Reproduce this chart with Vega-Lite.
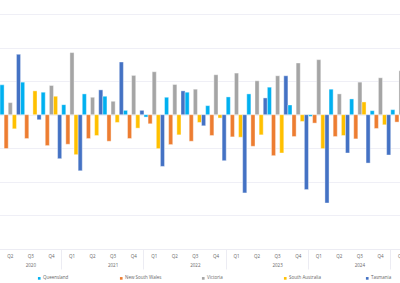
{
  "$schema": "https://vega.github.io/schema/vega-lite/v6.json",
  "width": 400,
  "height": 235,
  "autosize": {"type": "none"},
  "padding": {"left": 0, "top": 14, "right": 0, "bottom": 34},
  "background": "white",
  "config": {"view": {"stroke": null}, "font": "Open Sans"},
  "data": {"values": [
    {"quarter": "2020-Q1", "state": "Tasmania", "value": -0.72},
    {"quarter": "2020-Q2", "state": "Queensland", "value": 0.89},
    {"quarter": "2020-Q2", "state": "New South Wales", "value": -1.01},
    {"quarter": "2020-Q2", "state": "Victoria", "value": 0.36},
    {"quarter": "2020-Q2", "state": "South Australia", "value": -0.42},
    {"quarter": "2020-Q2", "state": "Tasmania", "value": 1.8},
    {"quarter": "2020-Q3", "state": "Queensland", "value": 0.97},
    {"quarter": "2020-Q3", "state": "New South Wales", "value": -0.71},
    {"quarter": "2020-Q3", "state": "Victoria", "value": 0},
    {"quarter": "2020-Q3", "state": "South Australia", "value": 0.71},
    {"quarter": "2020-Q3", "state": "Tasmania", "value": -0.15},
    {"quarter": "2020-Q4", "state": "Queensland", "value": 0.67},
    {"quarter": "2020-Q4", "state": "New South Wales", "value": -0.92},
    {"quarter": "2020-Q4", "state": "Victoria", "value": 0.87},
    {"quarter": "2020-Q4", "state": "South Australia", "value": 0.55},
    {"quarter": "2020-Q4", "state": "Tasmania", "value": -1.31},
    {"quarter": "2021-Q1", "state": "Queensland", "value": 0.3},
    {"quarter": "2021-Q1", "state": "New South Wales", "value": -0.88},
    {"quarter": "2021-Q1", "state": "Victoria", "value": 1.85},
    {"quarter": "2021-Q1", "state": "South Australia", "value": -1.19},
    {"quarter": "2021-Q1", "state": "Tasmania", "value": -1.67},
    {"quarter": "2021-Q2", "state": "Queensland", "value": 0.62},
    {"quarter": "2021-Q2", "state": "New South Wales", "value": -0.71},
    {"quarter": "2021-Q2", "state": "Victoria", "value": 0.52},
    {"quarter": "2021-Q2", "state": "South Australia", "value": -0.62},
    {"quarter": "2021-Q2", "state": "Tasmania", "value": 0.74},
    {"quarter": "2021-Q3", "state": "Queensland", "value": 0.55},
    {"quarter": "2021-Q3", "state": "New South Wales", "value": -0.79},
    {"quarter": "2021-Q3", "state": "Victoria", "value": 0.4},
    {"quarter": "2021-Q3", "state": "South Australia", "value": -0.23},
    {"quarter": "2021-Q3", "state": "Tasmania", "value": 1.57},
    {"quarter": "2021-Q4", "state": "Queensland", "value": 0.13},
    {"quarter": "2021-Q4", "state": "New South Wales", "value": -0.71},
    {"quarter": "2021-Q4", "state": "Victoria", "value": 1.17},
    {"quarter": "2021-Q4", "state": "South Australia", "value": -0.4},
    {"quarter": "2021-Q4", "state": "Tasmania", "value": 0.13},
    {"quarter": "2022-Q1", "state": "Queensland", "value": -0.07},
    {"quarter": "2022-Q1", "state": "New South Wales", "value": -0.27},
    {"quarter": "2022-Q1", "state": "Victoria", "value": 1.28},
    {"quarter": "2022-Q1", "state": "South Australia", "value": -1.01},
    {"quarter": "2022-Q1", "state": "Tasmania", "value": -1.54},
    {"quarter": "2022-Q2", "state": "Queensland", "value": 0.52},
    {"quarter": "2022-Q2", "state": "New South Wales", "value": -0.89},
    {"quarter": "2022-Q2", "state": "Victoria", "value": 0.9},
    {"quarter": "2022-Q2", "state": "South Australia", "value": -0.6},
    {"quarter": "2022-Q2", "state": "Tasmania", "value": 0.71},
    {"quarter": "2022-Q3", "state": "Queensland", "value": 0.67},
    {"quarter": "2022-Q3", "state": "New South Wales", "value": -0.79},
    {"quarter": "2022-Q3", "state": "Victoria", "value": 0.76},
    {"quarter": "2022-Q3", "state": "South Australia", "value": -0.23},
    {"quarter": "2022-Q3", "state": "Tasmania", "value": -0.33},
    {"quarter": "2022-Q4", "state": "Queensland", "value": 0.27},
    {"quarter": "2022-Q4", "state": "New South Wales", "value": -0.62},
    {"quarter": "2022-Q4", "state": "Victoria", "value": 1.19},
    {"quarter": "2022-Q4", "state": "South Australia", "value": -0.1},
    {"quarter": "2022-Q4", "state": "Tasmania", "value": -1.37},
    {"quarter": "2023-Q1", "state": "Queensland", "value": 0.53},
    {"quarter": "2023-Q1", "state": "New South Wales", "value": -0.66},
    {"quarter": "2023-Q1", "state": "Victoria", "value": 1.24},
    {"quarter": "2023-Q1", "state": "South Australia", "value": -0.67},
    {"quarter": "2023-Q1", "state": "Tasmania", "value": -2.33},
    {"quarter": "2023-Q2", "state": "Queensland", "value": 0.62},
    {"quarter": "2023-Q2", "state": "New South Wales", "value": -0.94},
    {"quarter": "2023-Q2", "state": "Victoria", "value": 1.01},
    {"quarter": "2023-Q2", "state": "South Australia", "value": -0.6},
    {"quarter": "2023-Q2", "state": "Tasmania", "value": 0.5},
    {"quarter": "2023-Q3", "state": "Queensland", "value": 0.82},
    {"quarter": "2023-Q3", "state": "New South Wales", "value": -1.22},
    {"quarter": "2023-Q3", "state": "Victoria", "value": 1.16},
    {"quarter": "2023-Q3", "state": "South Australia", "value": -1.14},
    {"quarter": "2023-Q3", "state": "Tasmania", "value": 1.16},
    {"quarter": "2023-Q4", "state": "Queensland", "value": 0.29},
    {"quarter": "2023-Q4", "state": "New South Wales", "value": -0.65},
    {"quarter": "2023-Q4", "state": "Victoria", "value": 1.54},
    {"quarter": "2023-Q4", "state": "South Australia", "value": -0.2},
    {"quarter": "2023-Q4", "state": "Tasmania", "value": -2.23},
    {"quarter": "2024-Q1", "state": "Queensland", "value": -0.05},
    {"quarter": "2024-Q1", "state": "New South Wales", "value": -0.25},
    {"quarter": "2024-Q1", "state": "Victoria", "value": 1.64},
    {"quarter": "2024-Q1", "state": "South Australia", "value": -1.01},
    {"quarter": "2024-Q1", "state": "Tasmania", "value": -2.63},
    {"quarter": "2024-Q2", "state": "Queensland", "value": 0.76},
    {"quarter": "2024-Q2", "state": "New South Wales", "value": -0.65},
    {"quarter": "2024-Q2", "state": "Victoria", "value": 0.62},
    {"quarter": "2024-Q2", "state": "South Australia", "value": -0.62},
    {"quarter": "2024-Q2", "state": "Tasmania", "value": -1.14},
    {"quarter": "2024-Q3", "state": "Queensland", "value": 0.47},
    {"quarter": "2024-Q3", "state": "New South Wales", "value": -0.72},
    {"quarter": "2024-Q3", "state": "Victoria", "value": 0.97},
    {"quarter": "2024-Q3", "state": "South Australia", "value": 0.38},
    {"quarter": "2024-Q3", "state": "Tasmania", "value": -1.44},
    {"quarter": "2024-Q4", "state": "Queensland", "value": 0.12},
    {"quarter": "2024-Q4", "state": "New South Wales", "value": -0.41},
    {"quarter": "2024-Q4", "state": "Victoria", "value": 1.1},
    {"quarter": "2024-Q4", "state": "South Australia", "value": -0.3},
    {"quarter": "2024-Q4", "state": "Tasmania", "value": -1.2},
    {"quarter": "2025-Q1", "state": "Queensland", "value": 0.15},
    {"quarter": "2025-Q1", "state": "New South Wales", "value": -0.22},
    {"quarter": "2025-Q1", "state": "Victoria", "value": 1.31}
  ]},
  "layer": [
    {
      "mark": {"type": "bar", "stroke": "white", "strokeWidth": 0.4},
      "encoding": {
        "x": {
          "field": "quarter", "type": "nominal",
          "scale": {
            "domain": ["2020-Q1","2020-Q2","2020-Q3","2020-Q4","2021-Q1","2021-Q2","2021-Q3","2021-Q4","2022-Q1","2022-Q2","2022-Q3","2022-Q4","2023-Q1","2023-Q2","2023-Q3","2023-Q4","2024-Q1","2024-Q2","2024-Q3","2024-Q4","2025-Q1"],
            "range": [-20.56, 411.3],
            "paddingInner": 0, "paddingOuter": 0
          },
          "axis": {
            "orient": "bottom", "title": null, "labelExpr": "slice(datum.value, 5)",
            "ticks": false, "domain": true, "domainColor": "#ececf3", "labelFontSize": 4.5,
            "labelColor": "#666666", "labelPadding": 4, "labelAngle": 0, "grid": false, "labelOverlap": false
          }
        },
        "xOffset": {
          "field": "state", "type": "nominal",
          "scale": {"domain": ["Queensland","New South Wales","Victoria","South Australia","Tasmania"], "paddingInner": 0, "paddingOuter": 0}
        },
        "y": {
          "field": "value", "type": "quantitative",
          "scale": {"domain": [-4, 3], "nice": false},
          "axis": {"title": null, "labels": false, "ticks": false, "domain": false, "grid": true, "gridColor": "#efeff6", "values": [-3,-2,-1,0,1,2,3]}
        },
        "color": {
          "field": "state", "type": "nominal",
          "scale": {"domain": ["Queensland","New South Wales","Victoria","South Australia","Tasmania"], "range": ["#00B0F0","#ED7D31","#A5A5A5","#FFC000","#4472C4"]},
          "legend": {
            "orient": "none", "legendX": 37, "legendY": 262, "direction": "horizontal", "columns": 5,
            "gridAlign": "all", "columnPadding": 39, "title": null, "symbolType": "square", "symbolSize": 7,
            "labelFontSize": 4.5, "labelColor": "#666666", "symbolStrokeWidth": 0, "labelOffset": 1.5
          }
        }
      }
    },
    {
      "mark": {"type": "tick", "opacity": 0},
      "encoding": {
        "x": {
          "field": "quarter", "type": "nominal",
          "axis": {
            "orient": "bottom", "title": null,
            "values": ["2020-Q1","2021-Q1","2022-Q1","2023-Q1","2024-Q1","2025-Q1"],
            "bandPosition": 0, "labelExpr": "slice(datum.value, 0, 4)", "labelOffset": 41.1,
            "tickSize": 20, "tickColor": "#ececf3", "domain": false, "labelPadding": -7,
            "labelFontSize": 4.5, "labelColor": "#666666", "grid": false, "labelAngle": 0, "labelOverlap": false
          }
        }
      }
    }
  ],
  "resolve": {"axis": {"x": "independent"}}
}
